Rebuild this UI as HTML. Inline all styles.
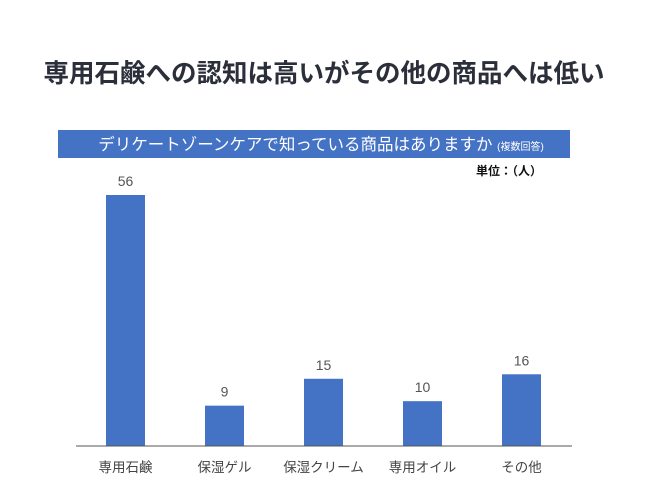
<!DOCTYPE html>
<html><head><meta charset="utf-8"><style>
body{margin:0;background:#fff;width:650px;height:488px;overflow:hidden;font-family:"Liberation Sans","Noto Sans CJK JP",sans-serif}
</style></head><body>
<svg width="650" height="488">
<text x="324" y="82" text-anchor="middle" font-size="25.5" font-weight="bold" fill="#2b2f3a" style="font-family:'Liberation Sans','Noto Sans CJK JP',sans-serif">専用石鹸への認知は高いがその他の商品へは低い</text>
<rect x="58" y="130" width="512" height="28" fill="#4472c4"/>
<text x="321" y="150" text-anchor="middle" font-size="16.5" fill="#fff" style="font-family:'Liberation Sans','Noto Sans CJK JP',sans-serif">デリケートゾーンケアで知っている商品はありますか <tspan font-size="10">(複数回答)</tspan></text>
<text x="542" y="175" text-anchor="end" font-size="12" font-weight="bold" fill="#111" style="font-family:'Liberation Sans','Noto Sans CJK JP',sans-serif">単位：（人）</text>
<g id="bars"></g>
<line x1="76" y1="446" x2="572" y2="446" stroke="#555" stroke-width="1"/>
</svg>
<script>
const categories=["専用石鹸","保湿ゲル","保湿クリーム","専用オイル","その他"];
const values=[56,9,15,10,16];
const g=document.getElementById('bars');
const NS='http://www.w3.org/2000/svg';
const base=446, scale=251/56, x0=125.5, step=99, bw=39;
function yPos(v){return base-v*scale;}
categories.forEach((c,i)=>{
  const cx=x0+i*step, v=values[i];
  const r=document.createElementNS(NS,'rect');
  r.setAttribute('x',cx-bw/2);r.setAttribute('y',yPos(v));r.setAttribute('width',bw);r.setAttribute('height',base-yPos(v));r.setAttribute('fill','#4472c4');
  
  
  g.appendChild(r);
  const t=document.createElementNS(NS,'text');
  t.setAttribute('x',cx);t.setAttribute('y',yPos(v)-9);t.setAttribute('text-anchor','middle');t.setAttribute('font-size','14');t.setAttribute('fill','#555');
  t.textContent=v;
  
  
  g.appendChild(t);
  const l=document.createElementNS(NS,'text');
  l.setAttribute('x',cx);l.setAttribute('y',472);l.setAttribute('text-anchor','middle');l.setAttribute('font-size','13.5');l.setAttribute('fill','#444');
  l.setAttribute('style',"font-family:'Liberation Sans','Noto Sans CJK JP',sans-serif");
  l.textContent=c;
  
  
  g.appendChild(l);
});
</script>
</body></html>
